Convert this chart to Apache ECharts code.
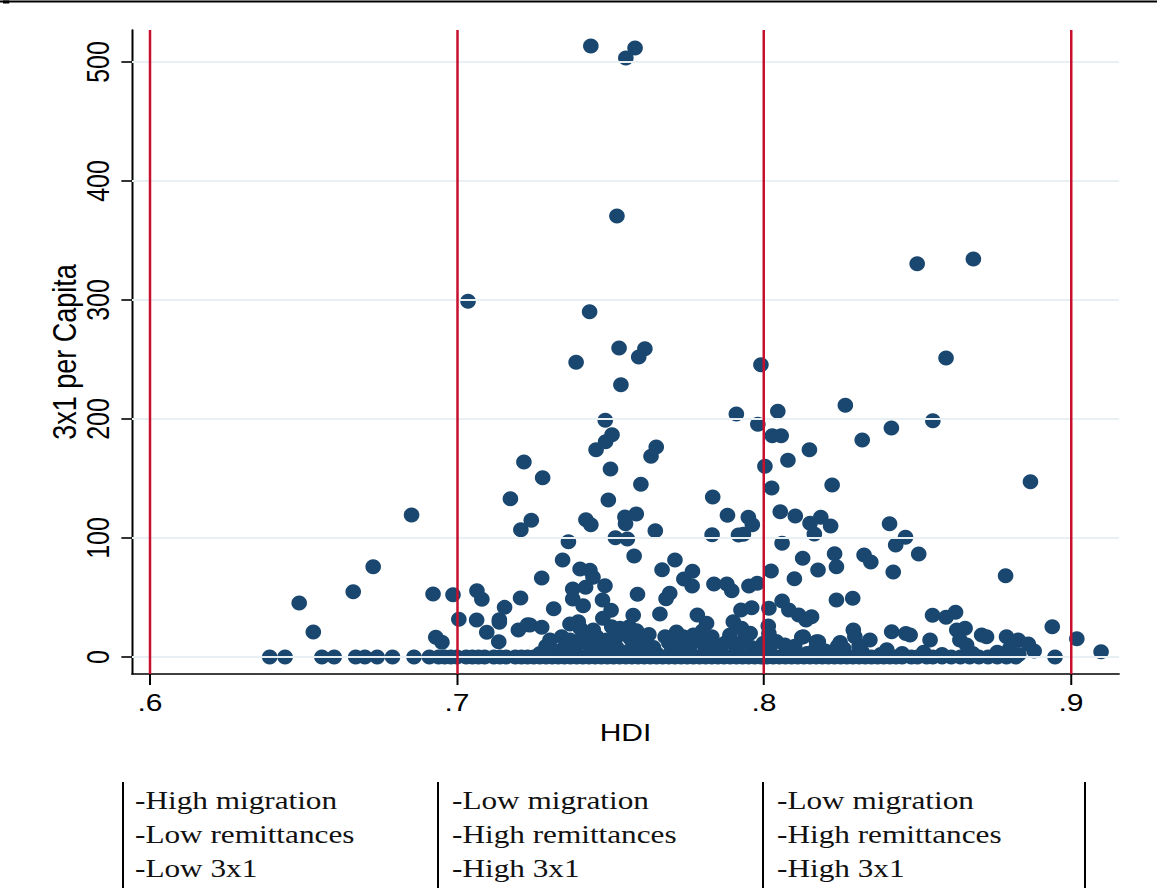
<!DOCTYPE html>
<html>
<head>
<meta charset="utf-8">
<script src="https://cdn.jsdelivr.net/npm/echarts@6/dist/echarts.min.js"></script>
<style>
  html, body { margin: 0; padding: 0; background: #ffffff; overflow: hidden; }
  #stage { width: 1157px; height: 888px; overflow: hidden; position: relative; background: #ffffff; }
  /* the figure is laid out at 925.6px and widened 1.25x, as in the exported graph */
  #chart { width: 925.6px; height: 888px; transform: scaleX(1.25); transform-origin: 0 0; }
</style>
</head>
<body>
<div id="stage"><div id="chart"></div></div>
<script>
// ---- axes ----
const xTicks = [0.6, 0.7, 0.8, 0.9];
const yTicks = [0, 100, 200, 300, 400, 500];
const xTitle = 'HDI';
const yTitle = '3x1 per Capita';

// ---- municipalities: [HDI, 3x1 per capita] ----
const pointsHigh = [
  [0.7436, 513.4], [0.7580, 511.8], [0.7550, 503.4], [0.7521, 370.6],
  [0.7036, 298.9], [0.7432, 290.2], [0.8499, 330.5], [0.8682, 334.5],
  [0.7528, 259.7], [0.7612, 259.1], [0.7592, 252.1], [0.7388, 247.6],
  [0.7534, 228.8], [0.7990, 245.6], [0.8593, 251.3]
];

const pointsMid = [
  [0.7910, 204.2], [0.8265, 211.5], [0.8045, 206.5], [0.7980, 195.5],
  [0.8027, 186.0], [0.8056, 186.0], [0.8550, 198.6], [0.8415, 192.4],
  [0.8320, 182.4], [0.8148, 174.2], [0.8078, 165.3], [0.8003, 160.2],
  [0.8025, 142.0], [0.8222, 144.5], [0.8868, 147.3], [0.8053, 122.1],
  [0.8102, 118.5], [0.7949, 117.4], [0.7962, 111.2], [0.7933, 103.1],
  [0.8150, 112.4], [0.8185, 117.4], [0.8164, 103.4], [0.8217, 110.1],
  [0.8409, 112.0], [0.8461, 100.6], [0.8429, 94.1], [0.8059, 95.5],
  [0.8126, 82.9], [0.8230, 86.8], [0.8326, 85.7], [0.8504, 86.6],
  [0.8348, 79.8], [0.8236, 75.9], [0.8176, 73.1], [0.8421, 71.4],
  [0.8787, 68.3], [0.8236, 47.9], [0.8289, 49.3], [0.8549, 35.0],
  [0.8593, 33.4], [0.8624, 37.6],
  [0.7483, 198.9], [0.7505, 186.8], [0.7484, 180.9], [0.7453, 174.2],
  [0.7649, 176.5], [0.7632, 168.7], [0.7500, 158.0], [0.7218, 163.9],
  [0.7279, 150.7], [0.7599, 145.1], [0.7174, 133.0], [0.7493, 131.9],
  [0.7833, 134.5], [0.7881, 119.1], [0.6852, 119.3], [0.7242, 114.9],
  [0.7208, 107.0], [0.7420, 115.4], [0.7436, 111.2], [0.7547, 117.6],
  [0.7584, 120.2], [0.7549, 112.0], [0.7646, 106.1], [0.7831, 102.8],
  [0.7917, 102.5], [0.7363, 96.9], [0.7516, 100.3], [0.7555, 99.2],
  [0.7344, 81.5], [0.7577, 84.9], [0.7710, 81.5]
];

const pointsLow = [
  [0.7668, 73.4], [0.7767, 72.0], [0.7739, 65.5], [0.7766, 59.7],
  [0.7276, 66.4], [0.7401, 73.9], [0.7433, 72.9], [0.7443, 67.0],
  [0.7482, 59.9], [0.7474, 47.9], [0.7377, 57.1], [0.7377, 48.7],
  [0.7411, 43.1], [0.7419, 58.6], [0.7588, 52.7], [0.7693, 53.5],
  [0.7681, 49.0], [0.7837, 61.3], [0.7879, 61.3], [0.7895, 55.7],
  [0.7951, 59.7], [0.7978, 61.9], [0.8023, 72.3], [0.8099, 65.8],
  [0.7315, 40.6], [0.7502, 39.2], [0.7661, 36.1], [0.7574, 35.0],
  [0.7783, 35.3], [0.7925, 39.5], [0.7960, 41.4], [0.8016, 40.9],
  [0.8059, 47.1], [0.8081, 39.5], [0.8113, 35.3], [0.8137, 31.1],
  [0.8155, 33.9], [0.6486, 45.4], [0.6532, 21.0], [0.6662, 54.9],
  [0.6727, 75.9], [0.6922, 52.9], [0.6987, 52.4], [0.6931, 16.5],
  [0.6951, 12.3], [0.7006, 31.7], [0.7065, 55.7], [0.7081, 48.5],
  [0.7064, 31.1], [0.7097, 20.7], [0.7138, 31.3], [0.7138, 29.2],
  [0.7136, 12.9], [0.7155, 41.7], [0.7207, 49.6], [0.7200, 22.7],
  [0.7230, 27.1]
];

const pointsSmall = [
  [0.7238, 26.9], [0.7276, 24.9], [0.7368, 27.7], [0.7395, 29.7],
  [0.7475, 32.5], [0.7504, 25.5], [0.7531, 24.1], [0.7561, 25.5],
  [0.7585, 22.1], [0.7813, 28.3], [0.7900, 29.7], [0.7927, 24.1],
  [0.8014, 26.0], [0.8016, 19.8], [0.7303, 14.3], [0.7341, 17.1],
  [0.7368, 14.3], [0.7422, 11.5], [0.7455, 17.1], [0.7487, 14.3],
  [0.7520, 17.1], [0.7564, 15.7], [0.7607, 15.7], [0.7678, 17.1],
  [0.7737, 17.1], [0.7770, 18.5], [0.7830, 17.1], [0.7889, 18.5],
  [0.7938, 15.7], [0.7998, 11.5], [0.8068, 10.1], [0.8123, 16.5],
  [0.8171, 12.9], [0.7401, 24.1], [0.7444, 22.7], [0.8128, 17.1],
  [0.8177, 12.9], [0.8248, 12.1], [0.8291, 22.7], [0.8296, 17.1],
  [0.8345, 14.3], [0.8416, 21.3], [0.8462, 19.8], [0.8476, 18.5],
  [0.8541, 14.3], [0.8628, 22.7], [0.8655, 24.1], [0.8638, 14.3],
  [0.8709, 18.5], [0.8725, 17.1], [0.8790, 17.1], [0.8828, 14.3],
  [0.8861, 10.9], [0.8660, 10.1], [0.8939, 25.5], [0.9019, 15.4],
  [0.9098, 4.5],
  [0.7440, 6], [0.7480, 4], [0.7520, 8], [0.7560, 5], [0.7600, 7],
  [0.7650, 3], [0.7700, 6], [0.7760, 4], [0.7810, 7], [0.7860, 3],
  [0.7910, 5], [0.7960, 8], [0.8020, 4], [0.8080, 6], [0.8140, 3],
  [0.8200, 5], [0.8260, 7], [0.8320, 4], [0.8380, 2], [0.8450, 3],
  [0.8520, 4], [0.8580, 2], [0.8680, 3], [0.8760, 4], [0.8830, 2],
  [0.8880, 5], [0.7330, 5], [0.7270, 3], [0.7620, 10], [0.7720, 9],
  [0.7850, 10], [0.8170, 8], [0.8240, 9], [0.8310, 9], [0.8400, 6],
  [0.8800, 7],
  [0.7385, 9], [0.7410, 18], [0.7465, 10], [0.7505, 12], [0.7540, 20],
  [0.7575, 11], [0.7625, 19], [0.7640, 8], [0.7690, 12], [0.7715, 21],
  [0.7745, 10], [0.7790, 13], [0.7800, 22], [0.7840, 9], [0.7875, 12],
  [0.7920, 11], [0.7955, 20], [0.7985, 7], [0.8040, 13], [0.8100, 9],
  [0.7355, 10], [0.7290, 9]
];

// HDI of municipalities with no 3x1 spending
const hdiZero = [
  0.639, 0.644, 0.656, 0.660, 0.667, 0.670, 0.674, 0.679, 0.686, 0.691,
  0.694, 0.696, 0.698, 0.700, 0.703, 0.705, 0.707, 0.709, 0.712, 0.714,
  0.716, 0.719, 0.721, 0.723, 0.725, 0.727, 0.729, 0.731, 0.733, 0.735,
  0.737, 0.739, 0.741, 0.743, 0.745, 0.747, 0.749, 0.751, 0.753, 0.755,
  0.757, 0.759, 0.761, 0.763, 0.765, 0.767, 0.769, 0.771, 0.773, 0.775,
  0.777, 0.779, 0.781, 0.783, 0.785, 0.787, 0.789, 0.791, 0.793, 0.795,
  0.797, 0.799, 0.801, 0.803, 0.805, 0.807, 0.809, 0.811, 0.813, 0.815,
  0.817, 0.819, 0.821, 0.823, 0.825, 0.827, 0.829, 0.831, 0.833, 0.835,
  0.837, 0.839, 0.841, 0.843, 0.845, 0.848, 0.850, 0.853, 0.855, 0.858,
  0.861, 0.864, 0.867, 0.870, 0.873, 0.876, 0.879, 0.882, 0.8948
];

// ---- group descriptions under the plot ----
const groupNotes = [
  ['-High migration', '-Low remittances', '-Low 3x1'],
  ['-Low migration', '-High remittances', '-High 3x1'],
  ['-Low migration', '-High remittances', '-High 3x1']
];

// ---- drawing ----
const SX = 1.25;                 // horizontal widening of the figure
const navy = '#1a476f';
const gridColor = '#e9f0f3';
const xlineColor = '#c8102e';
const sansFont = "'Liberation Sans', Arial, Helvetica, sans-serif";
const serifFont = "'Liberation Serif', 'Times New Roman', serif";

const allPoints = []
  .concat(pointsHigh, pointsMid, pointsLow, pointsSmall)
  .concat(hdiZero.map(h => [h, 0]));

const dividerX = [123, 438, 763, 1085].map(v => v / SX);
const noteX = [135, 452, 777].map(v => v / SX);
const noteY = [801, 835, 869];

const graphics = [
  { type: 'line', shape: { x1: 0, y1: 1.5, x2: 1157 / SX, y2: 1.5 },
    style: { stroke: '#000', lineWidth: 2 } },
  { type: 'rect', shape: { x: 2.4, y: 0.5, width: 5, height: 3 },
    style: { fill: '#000' } }
];
dividerX.forEach(x => {
  graphics.push({ type: 'line', shape: { x1: x, y1: 782, x2: x, y2: 888 },
    style: { stroke: '#000', lineWidth: 1.6 } });
});
groupNotes.forEach((lines, i) => {
  lines.forEach((t, j) => {
    graphics.push({ type: 'text', x: noteX[i], y: noteY[j],
      style: { text: t, font: '25px ' + serifFont, fill: '#111',
               textAlign: 'left', textVerticalAlign: 'middle' } });
  });
});

const fmtX = v => String(v).replace(/^0/, '');

const option = {
  backgroundColor: '#ffffff',
  animation: false,
  grid: {
    left: 132 / SX, top: 30, width: (1119 - 132) / SX, height: 644,
    containLabel: false, outerBoundsMode: 'none', show: false
  },
  xAxis: {
    type: 'value',
    min: 0.59414, max: 0.91564,
    name: xTitle, nameLocation: 'middle', nameGap: 47, nameMoveOverlap: false,
    nameTextStyle: { fontFamily: sansFont, fontSize: 24, color: '#000' },
    axisLine: { show: true, onZero: false, lineStyle: { color: '#000', width: 1.6 } },
    axisTick: { show: true, length: 11, customValues: xTicks,
                lineStyle: { color: '#000', width: 1.6 } },
    axisLabel: { show: true, customValues: xTicks, formatter: fmtX, margin: 17,
                 fontFamily: sansFont, fontSize: 24, color: '#000' },
    splitLine: { show: false }
  },
  yAxis: {
    type: 'value',
    min: -14.29, max: 526.9,
    name: yTitle, nameLocation: 'middle', nameGap: 41, nameRotate: 90,
    nameMoveOverlap: false,
    nameTextStyle: { fontFamily: sansFont, fontSize: 27, color: '#000' },
    axisLine: { show: true, onZero: false, lineStyle: { color: '#000', width: 1.6 } },
    axisTick: { show: true, length: 8.5, customValues: yTicks,
                lineStyle: { color: '#000', width: 1.6 } },
    axisLabel: { show: true, customValues: yTicks, rotate: 90, margin: 15,
                 fontFamily: sansFont, fontSize: 25, color: '#000' },
    splitLine: { show: false }
  },
  graphic: graphics,
  series: [
    {
      name: 'grid', type: 'scatter', data: [], z: 1, silent: true,
      markLine: {
        silent: true, symbol: ['none', 'none'], animation: false,
        label: { show: false },
        lineStyle: { color: gridColor, width: 2, type: 'solid' },
        data: yTicks.map(v => ({ yAxis: v }))
      }
    },
    {
      name: 'xlines', type: 'scatter', data: [], z: 2, silent: true,
      markLine: {
        silent: true, symbol: ['none', 'none'], animation: false,
        label: { show: false },
        lineStyle: { color: xlineColor, width: 2, type: 'solid' },
        data: xTicks.map(v => ({ xAxis: v }))
      }
    },
    {
      name: '3x1 per Capita', type: 'scatter', z: 3,
      data: allPoints,
      symbol: 'circle', symbolSize: [12.5, 15],
      itemStyle: { color: navy, opacity: 1 }
    }
  ]
};

const chart = echarts.init(document.getElementById('chart'), null, { renderer: 'svg' });
chart.setOption(option);
</script>
</body>
</html>
